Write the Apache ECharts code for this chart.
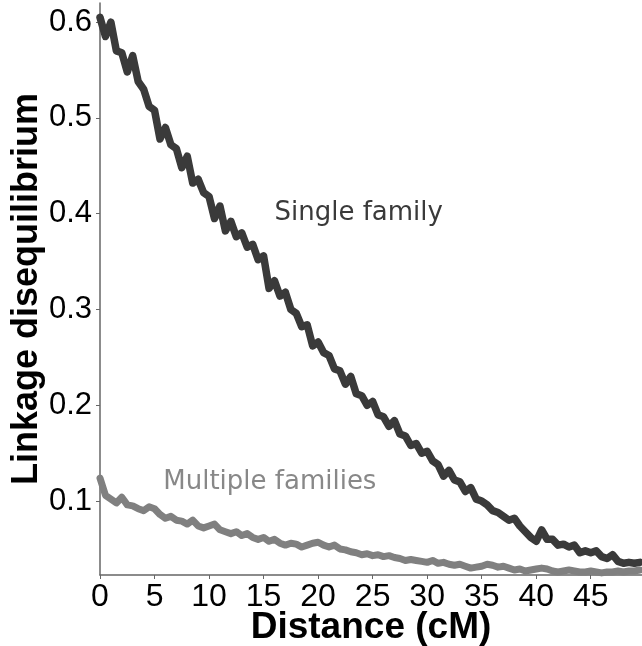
<!DOCTYPE html>
<html>
<head>
<meta charset="utf-8">
<script src="https://cdn.jsdelivr.net/npm/echarts@6/dist/echarts.min.js"></script>
<style>
html,body{margin:0;padding:0;background:#fff;}
#chart{width:642px;height:646px;}
</style>
</head>
<body>
<div id="chart"></div>
<script>
// Distance (cM) sample positions
var distance = [0,0.5,1,1.5,2,2.5,3,3.5,4,4.5,5,5.5,6,6.5,7,7.5,8,8.5,9,9.5,
10,10.5,11,11.5,12,12.5,13,13.5,14,14.5,15,15.5,16,16.5,17,17.5,18,18.5,19,19.5,
20,20.5,21,21.5,22,22.5,23,23.5,24,24.5,25,25.5,26,26.5,27,27.5,28,28.5,29,29.5,
30,30.5,31,31.5,32,32.5,33,33.5,34,34.5,35,35.5,36,36.5,37,37.5,38,38.5,39,39.5,
40,40.5,41,41.5,42,42.5,43,43.5,44,44.5,45,45.5,46,46.5,47,47.5,48,48.5,49,49.5];

var singleFamily = [0.605,0.585,0.600,0.570,0.568,0.548,0.565,0.538,0.530,0.512,
0.508,0.478,0.490,0.472,0.468,0.448,0.460,0.432,0.436,0.422,
0.418,0.395,0.408,0.382,0.392,0.376,0.380,0.365,0.368,0.352,
0.356,0.322,0.330,0.314,0.318,0.300,0.296,0.282,0.284,0.262,
0.266,0.255,0.252,0.238,0.236,0.222,0.230,0.212,0.210,0.200,
0.204,0.190,0.188,0.178,0.184,0.170,0.168,0.158,0.160,0.150,
0.152,0.142,0.138,0.126,0.132,0.122,0.120,0.110,0.114,0.102,
0.100,0.096,0.090,0.088,0.084,0.080,0.082,0.074,0.068,0.062,
0.058,0.070,0.060,0.060,0.054,0.055,0.052,0.054,0.046,0.048,
0.046,0.048,0.042,0.040,0.044,0.037,0.035,0.036,0.035,0.036];

var multipleFamilies = [0.124,0.106,0.102,0.098,0.104,0.096,0.095,0.092,0.090,0.094,
0.092,0.086,0.082,0.084,0.080,0.079,0.076,0.080,0.074,0.072,
0.074,0.076,0.070,0.068,0.066,0.068,0.064,0.066,0.062,0.060,
0.062,0.058,0.060,0.056,0.054,0.056,0.055,0.052,0.054,0.056,
0.057,0.054,0.052,0.054,0.050,0.049,0.047,0.046,0.044,0.045,
0.043,0.044,0.042,0.043,0.041,0.040,0.038,0.039,0.038,0.037,
0.036,0.038,0.035,0.036,0.034,0.033,0.034,0.032,0.030,0.031,
0.032,0.034,0.033,0.031,0.032,0.030,0.028,0.029,0.027,0.028,
0.029,0.030,0.029,0.027,0.026,0.027,0.028,0.027,0.026,0.026,
0.027,0.026,0.025,0.026,0.026,0.027,0.026,0.027,0.027,0.028];

var xTicks = [0,5,10,15,20,25,30,35,40,45];
var yTicks = [0.1,0.2,0.3,0.4,0.5,0.6];

var seriesNames = ['Single family','Multiple families'];
var labelAnchors = [[16,0.40],[5.8,0.12]];

function pairs(xs, ys){ return xs.map(function(x,i){ return [x, ys[i]]; }); }

var chart = echarts.init(document.getElementById('chart'));
var option = {
  animation: false,
  backgroundColor: '#fff',
  grid: {left: 100, right: 0, top: 3, bottom: 71, containLabel: false, outerBoundsMode: 'none'},
  xAxis: {
    type: 'value', min: 0, max: 49.7,
    axisLine: {onZero: false, lineStyle: {color: '#666', width: 1.5}},
    axisTick: {show: true, length: 4, lineStyle: {color: '#666'}, customValues: xTicks},
    axisLabel: {fontFamily: 'Liberation Sans, Arial, sans-serif', fontSize: 32, color: '#000', margin: 6, customValues: xTicks},
    splitLine: {show: false},
    name: 'Distance (cM)', nameLocation: 'middle', nameGap: 53, nameMoveOverlap: false,
    nameTextStyle: {fontFamily: 'Liberation Sans, Arial, sans-serif', fontSize: 37, fontWeight: 'bold', color: '#000', verticalAlign: 'middle'}
  },
  yAxis: {
    type: 'value', min: 0.0228, max: 0.62,
    axisLine: {show: true, lineStyle: {color: '#666', width: 1.5}},
    axisTick: {show: true, length: 4, lineStyle: {color: '#666'}, customValues: yTicks},
    axisLabel: {fontFamily: 'Liberation Sans, Arial, sans-serif', fontSize: 31, color: '#000', margin: 8, customValues: yTicks,
      formatter: function(v){ return v.toFixed(1); }},
    splitLine: {show: false},
    name: 'Linkage disequilibrium', nameLocation: 'middle', nameGap: 73, nameMoveOverlap: false,
    nameTextStyle: {fontFamily: 'Liberation Sans, Arial, sans-serif', fontSize: 36, fontWeight: 'bold', color: '#000', verticalAlign: 'middle'}
  },
  series: [
    {name: seriesNames[0], type: 'line', data: pairs(distance, singleFamily), showSymbol: false,
     lineStyle: {color: '#3a3a3a', width: 7.5, cap: 'round', join: 'round'}, z: 3},
    {name: seriesNames[1], type: 'line', data: pairs(distance, multipleFamilies), showSymbol: false,
     lineStyle: {color: '#808080', width: 7, cap: 'round', join: 'round'}, z: 2}
  ]
};
chart.setOption(option);
var p1 = chart.convertToPixel({gridIndex: 0}, labelAnchors[0]);
var p2 = chart.convertToPixel({gridIndex: 0}, labelAnchors[1]);
chart.setOption({
  graphic: [
    {type: 'text', x: p1[0], y: p1[1], style: {text: seriesNames[0], fill: '#3a3a3a', font: '26px "DejaVu Sans", sans-serif', verticalAlign: 'middle', align: 'left'}},
    {type: 'text', x: p2[0], y: p2[1], style: {text: seriesNames[1], fill: '#888888', font: '26px "DejaVu Sans", sans-serif', verticalAlign: 'middle', align: 'left'}}
  ]
});
</script>
</body>
</html>
